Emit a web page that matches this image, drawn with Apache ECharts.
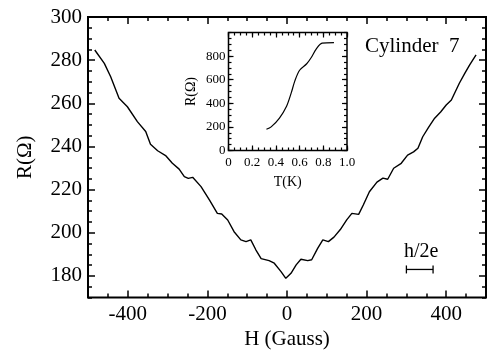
<!DOCTYPE html>
<html>
<head>
<meta charset="utf-8">
<script src="https://cdn.jsdelivr.net/npm/echarts@6/dist/echarts.min.js"></script>
<style>
  html, body { margin: 0; padding: 0; background: #fff; }
  #chart { width: 488px; height: 356px; }
</style>
</head>
<body>
<div id="chart"></div>
<script>
// Magnetoresistance of cylinder 7: R versus field H
const H_GAUSS = [-483, -459, -443, -422, -401, -376, -355, -343, -325, -304, -288, -271, -258, -248, -237,
  -216, -195, -175, -164, -149, -133, -116, -103, -91, -78, -65, -45, -32, -15, -3, 0, 10, 23, 35, 52, 62,
  77, 90, 104, 118, 134, 150, 163, 180, 192, 207, 226, 241, 253, 268, 287, 303, 318, 329, 341, 356, 371,
  386, 400, 413, 433, 447, 459, 475];
const R_OHM = [284.7, 278.5, 272.3, 262.3, 258.4, 251.5, 246.9, 241.0, 238.0, 235.6, 232.2, 229.5, 226.0,
  225.2, 225.7, 221.4, 215.2, 209.0, 208.7, 205.9, 200.5, 196.7, 195.9, 196.7, 192.0, 188.0, 187.1, 185.9,
  182.0, 178.9, 178.1, 181.2, 185.1, 187.7, 187.1, 187.5, 192.8, 196.7, 195.9, 198.0, 201.5, 206.0, 209.0,
  208.5, 213.0, 219.0, 223.5, 225.3, 224.8, 229.9, 232.2, 236.0, 237.5, 239.2, 244.5, 249.0, 253.1, 256.0,
  259.2, 261.5, 269.3, 274.0, 277.8, 282.4];

// Inset: resistance versus temperature
const T_K = [0.32, 0.36, 0.43, 0.49, 0.53, 0.56, 0.60, 0.66, 0.70, 0.74, 0.79, 0.89];
const R_T = [180, 200, 275, 375, 490, 590, 680, 735, 790, 860, 910, 915];

// Tick labels
const X_TICKS = [-400, -200, 0, 200, 400];
const Y_TICKS = [180, 200, 220, 240, 260, 280, 300];
const INSET_X_TICKS = [0, 0.2, 0.4, 0.6, 0.8, 1.0];
const INSET_Y_TICKS = [0, 200, 400, 600, 800];

// Flux quantum period marker h/2e: [start H, end H, R level]
const PERIOD_BAR = [[300, 367, 183]];

const FONT = 'Liberation Serif';

// Builds a framed axis set: labelled major ticks plus short minor ticks, mirrored on both sides
function axesFor(dim, grid, min, max, majors, minorStep, opts) {
  const sides = dim === 'x' ? ['bottom', 'top'] : ['left', 'right'];
  const out = [];
  sides.forEach(function (pos, k) {
    out.push({
      type: 'value', gridIndex: grid, position: pos, min: min, max: max,
      axisLine: { show: false, onZero: false }, splitLine: { show: false },
      axisTick: { show: true, inside: true, length: opts.major, customValues: majors,
        lineStyle: { color: '#000', width: opts.tickW } },
      axisLabel: { show: k === 0, customValues: majors, formatter: opts.fmt, margin: opts.margin,
        color: '#000', fontFamily: FONT, fontSize: opts.font },
      name: k === 0 ? opts.name : '', nameLocation: 'middle', nameGap: opts.nameGap,
      nameTextStyle: { color: '#000', fontFamily: FONT, fontSize: opts.nameFont }
    });
    out.push({
      type: 'value', gridIndex: grid, position: pos, min: min, max: max, interval: minorStep,
      axisLine: { show: false, onZero: false }, splitLine: { show: false },
      axisTick: { show: true, inside: true, length: opts.minor, lineStyle: { color: '#000', width: opts.tickW } },
      axisLabel: { show: false }
    });
  });
  return out;
}

const xAxes = axesFor('x', 0, -500, 500, X_TICKS, 50,
  { major: 7, minor: 4, tickW: 1.5, font: 21, margin: 6, fmt: function (v) { return String(v); },
    name: 'H (Gauss)', nameGap: 31, nameFont: 21 })
  .concat(axesFor('x', 1, 0, 1, INSET_X_TICKS, 0.05,
  { major: 5, minor: 3, tickW: 1.2, font: 13, margin: 6, fmt: function (v) { return v === 0 ? '0' : v.toFixed(1); },
    name: 'T(K)', nameGap: 25, nameFont: 14 }));

const yAxes = axesFor('y', 0, 170, 300, Y_TICKS, 5,
  { major: 7, minor: 4, tickW: 1.5, font: 21, margin: 6, fmt: function (v) { return String(v); },
    name: 'R(Ω)', nameGap: 52, nameFont: 21 })
  .concat(axesFor('y', 1, 0, 1000, INSET_Y_TICKS, 50,
  { major: 5, minor: 3, tickW: 1.2, font: 13, margin: 3, fmt: function (v) { return String(v); },
    name: 'R(Ω)', nameGap: 30, nameFont: 14 }));

const chart = echarts.init(document.getElementById('chart'), null, { renderer: 'canvas' });
chart.setOption({
  backgroundColor: '#fff',
  animation: false,
  grid: [
    { left: 88, top: 17, right: 2, bottom: 58.5, show: true, borderColor: '#000', borderWidth: 2, backgroundColor: 'transparent' },
    { left: 228.5, top: 32.5, width: 118.5, height: 118, show: true, borderColor: '#000', borderWidth: 1.5, backgroundColor: '#fff' }
  ],
  xAxis: xAxes,
  yAxis: yAxes,
  graphic: [
    { type: 'text', left: 365, top: 36, style: { text: 'Cylinder  7', font: '21px "Liberation Serif"', fill: '#000' } },
    { type: 'text', left: 404, top: 242, style: { text: 'h/2e', font: '20px "Liberation Serif"', fill: '#000' } }
  ],
  series: [
    {
      type: 'line', xAxisIndex: 0, yAxisIndex: 0, showSymbol: false, smooth: false,
      lineStyle: { color: '#000', width: 1.4 },
      data: H_GAUSS.map(function (h, i) { return [h, R_OHM[i]]; })
    },
    {
      type: 'line', xAxisIndex: 4, yAxisIndex: 4, showSymbol: false, smooth: 0.3,
      lineStyle: { color: '#000', width: 1.2 },
      data: T_K.map(function (t, i) { return [t, R_T[i]]; })
    },
    {
      type: 'custom', xAxisIndex: 0, yAxisIndex: 0,
      data: PERIOD_BAR,
      renderItem: function (params, api) {
        const a = api.coord([api.value(0), api.value(2)]);
        const b = api.coord([api.value(1), api.value(2)]);
        const st = { stroke: '#000', lineWidth: 1.3 };
        return { type: 'group', children: [
          { type: 'line', shape: { x1: a[0], y1: a[1], x2: b[0], y2: b[1] }, style: st },
          { type: 'line', shape: { x1: a[0], y1: a[1] - 4, x2: a[0], y2: a[1] + 4 }, style: st },
          { type: 'line', shape: { x1: b[0], y1: b[1] - 4, x2: b[0], y2: b[1] + 4 }, style: st }
        ] };
      }
    }
  ]
});
</script>
</body>
</html>
